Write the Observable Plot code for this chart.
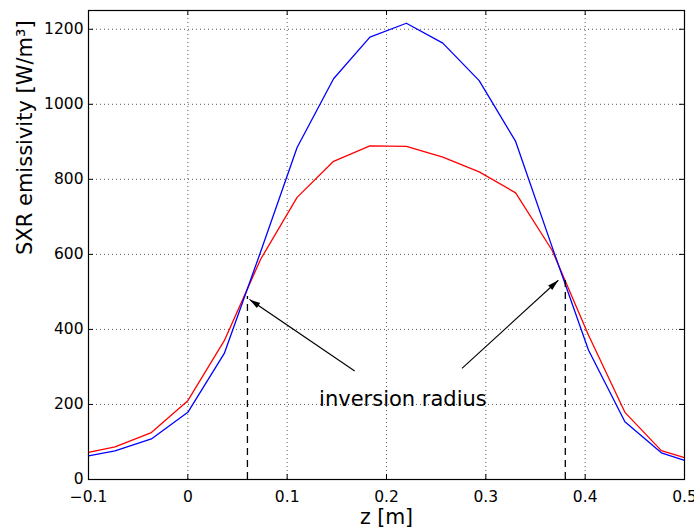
<!DOCTYPE html>
<html><head><meta charset="utf-8">
<script src="https://cdn.jsdelivr.net/npm/d3@7"></script>
<script src="https://cdn.jsdelivr.net/npm/@observablehq/plot@0.6"></script>
<style>body{margin:0;background:#fff} svg{display:block}</style>
</head><body><div id="chart"></div>
<script>
// ---- data ----
const z = [-0.1, -0.0733, -0.0367, 0, 0.0367, 0.0733, 0.11, 0.1467, 0.1833, 0.22, 0.2567, 0.2933, 0.33, 0.3667, 0.4033, 0.44, 0.4767, 0.5];
const emissivityBlue = [63, 76, 108, 179, 336, 607, 885, 1068, 1179, 1216, 1163, 1063, 901, 620, 345, 154, 71, 51];
const emissivityRed  = [72, 87, 125, 210, 370, 587, 752, 848, 889, 888, 859, 820, 764, 611, 385, 179, 77, 58];
const xTicks = [-0.1, 0, 0.1, 0.2, 0.3, 0.4, 0.5];
const yTicks = [0, 200, 400, 600, 800, 1000, 1200];
const inversionZ = [0.06, 0.38];
const inversionTop = [488, 538];
const arrowTailZ = [0.168, 0.276];
const arrowTailY = [289, 296];
const arrowTipZ = [0.062, 0.373];
const arrowTipY = [480, 531];
const annotationText = ["inversion radius"];
const annotationZ = [0.2165];
const annotationY = [214];
const xLabel = "z [m]";
const yLabel = "SXR emissivity [W/m³]";

// ---- layout ----
const W = 694, H = 531, mL = 88, mR = 10, mT = 10, mB = 52;
const xDomain = [-0.1, 0.5], yDomain = [0, 1250];
const plotW = W - mL - mR, plotH = H - mT - mB;
const kx = plotW / (xDomain[1] - xDomain[0]);
const ky = plotH / (yDomain[1] - yDomain[0]);

const blue = z.map((v, i) => ({z: v, e: emissivityBlue[i]}));
const red = z.map((v, i) => ({z: v, e: emissivityRed[i]}));
const dashes = inversionZ.map((v, i) => ({z: v, top: inversionTop[i]}));
const arrows = arrowTailZ.map((v, i) => {
  const dx = (arrowTipZ[i] - v) * kx;
  const dy = -(arrowTipY[i] - arrowTailY[i]) * ky;
  return {x1: v, y1: arrowTailY[i], x2: arrowTipZ[i], y2: arrowTipY[i],
          angle: Math.atan2(dx, -dy) * 180 / Math.PI};
});
const notes = annotationText.map((t, i) => ({t, z: annotationZ[i], e: annotationY[i]}));

const font = "'DejaVu Sans', 'Liberation Sans', Arial, sans-serif";

const chart = Plot.plot({
  width: W, height: H,
  marginLeft: mL, marginRight: mR, marginTop: mT, marginBottom: mB,
  style: {fontFamily: font, background: "#fff", color: "#000"},
  x: {domain: xDomain},
  y: {domain: yDomain},
  marks: [
    Plot.gridX(xTicks, {stroke: "#333", strokeOpacity: 0.8, strokeDasharray: "1,3"}),
    Plot.gridY(yTicks, {stroke: "#333", strokeOpacity: 0.8, strokeDasharray: "1,3"}),
    Plot.axisX(xTicks, {tickSize: 0, tickPadding: 11, fontSize: 15.5, label: null,
      tickFormat: d => d === 0 ? "0" : d3.format(".1f")(d)}),
    Plot.axisY(yTicks, {tickSize: 0, tickPadding: 5, fontSize: 15.5, label: null, tickFormat: d3.format("d")}),
    // inward ticks on all sides
    Plot.ruleX(xTicks, {stroke: "#000", insetBottom: plotH - 5}),
    Plot.ruleX(xTicks, {stroke: "#000", insetTop: plotH - 5}),
    Plot.ruleY(yTicks, {stroke: "#000", insetRight: plotW - 5}),
    Plot.ruleY(yTicks, {stroke: "#000", insetLeft: plotW - 5}),
    Plot.line(red, {x: "z", y: "e", stroke: "#ff0000", strokeWidth: 1.3}),
    Plot.line(blue, {x: "z", y: "e", stroke: "#0000ff", strokeWidth: 1.3}),
    Plot.ruleX(dashes, {x: "z", y1: 0, y2: "top", stroke: "#000", strokeWidth: 1.3, strokeDasharray: "7,5"}),
    Plot.link(arrows, {x1: "x1", y1: "y1", x2: "x2", y2: "y2", stroke: "#000", strokeWidth: 1.1}),
    Plot.vector(arrows, {x: "x2", y: "y2", rotate: "angle", length: 11, r: 3, shape: "spike",
      anchor: "end", fill: "#000", stroke: "none"}),
    Plot.text(notes, {x: "z", y: "e", text: "t", fontSize: 21, textAnchor: "middle", lineAnchor: "middle"}),
    Plot.text([xLabel], {frameAnchor: "bottom", dy: 30, fontSize: 20.5, lineAnchor: "top"}),
    Plot.text([yLabel], {frameAnchor: "left", rotate: -90, dx: -63, dy: 10, fontSize: 21, lineAnchor: "middle"}),
    Plot.frame({stroke: "#000", strokeWidth: 1.2})
  ]
});
document.getElementById("chart").append(chart);
</script>
</body></html>
